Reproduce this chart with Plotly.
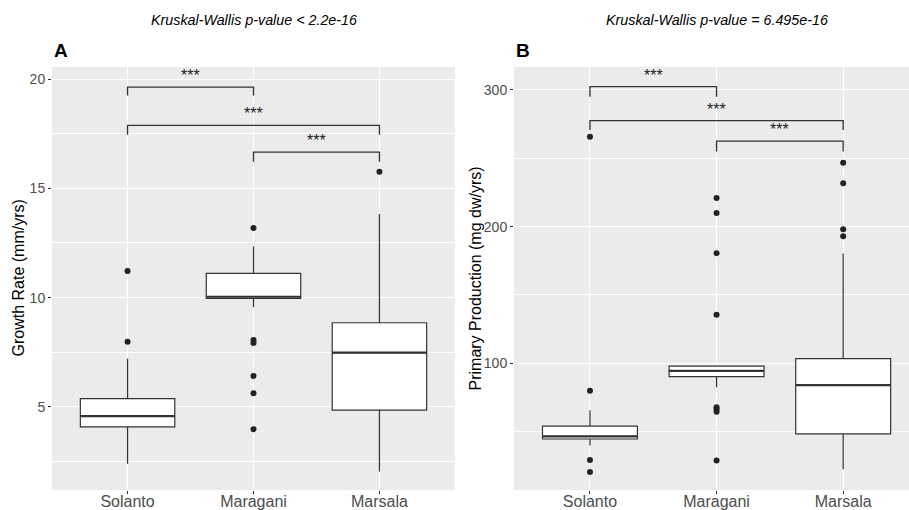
import plotly.graph_objects as go

# ---------------- data ----------------
categories = ["Solanto", "Maragani", "Marsala"]
cat_pos = [0, 1, 2]

# Panel A: Growth Rate (mm/yrs)
growth_q1 = [4.09, 9.96, 4.85]
growth_median = [4.58, 10.04, 7.48]
growth_q3 = [5.38, 11.11, 8.85]
growth_lower = [2.40, 9.57, 2.05]
growth_upper = [7.20, 12.34, 13.82]
growth_out_cat = [0, 0, 1, 1, 1, 1, 1, 1, 2]
growth_out_val = [7.98, 11.22, 13.18, 8.06, 7.93, 6.42, 5.63, 3.98, 15.76]

# Panel B: Primary Production (mg dw/yrs)
prod_q1 = [44.6, 90.3, 48.4]
prod_median = [46.5, 94.5, 84.0]
prod_q3 = [54.1, 97.9, 103.4]
prod_lower = [39.8, 82.4, 22.4]
prod_upper = [65.6, 97.9, 180.3]
prod_out_cat = [0, 0, 0, 0, 1, 1, 1, 1, 1, 1, 1, 1, 2, 2, 2, 2]
prod_out_val = [80.0, 29.2, 20.5, 265.8, 221.0, 210.0, 180.6, 135.6,
                67.8, 66.3, 64.6, 28.8, 246.8, 231.7, 198.0, 193.0]

# significance brackets (pairs of category indices)
bracket_pairs = [(0, 1), (0, 2), (1, 2)]
bracket_labels = ["***", "***", "***"]
growth_bracket_y = [19.63, 17.88, 16.66]
growth_bracket_tip = [19.25, 17.45, 16.22]
prod_bracket_y = [302.4, 277.6, 262.5]
prod_bracket_tip = [295.0, 270.7, 254.9]

title_a = "Kruskal-Wallis p-value < 2.2e-16"
title_b = "Kruskal-Wallis p-value = 6.495e-16"
ylabel_a = "Growth Rate (mm/yrs)"
ylabel_b = "Primary Production (mg dw/yrs)"

# ---------------- style ----------------
W, H = 909, 510
FONT = "Liberation Sans, Arial, sans-serif"
DARK = "#333333"
BOX_W = 0.75


def px(x):
    return x / W


def py(y):
    return 1 - y / H


fig = go.Figure()


def add_panel(xa, ya, q1, med, q3, lo, up, out_cat, out_val, b_y, b_tip):
    fig.add_trace(go.Box(
        x=cat_pos, q1=q1, median=med, q3=q3, lowerfence=lo, upperfence=up,
        width=BOX_W, fillcolor="white", line=dict(color=DARK, width=1.2),
        whiskerwidth=0, boxpoints=False, showlegend=False,
        xaxis=xa, yaxis=ya, hoverinfo="skip"))
    # thicker median (ggplot fatten)
    mx, my = [], []
    for c, m in zip(cat_pos, med):
        mx += [c - BOX_W / 2, c + BOX_W / 2, None]
        my += [m, m, None]
    fig.add_trace(go.Scatter(x=mx, y=my, mode="lines",
                             line=dict(color=DARK, width=2.2),
                             showlegend=False, xaxis=xa, yaxis=ya, hoverinfo="skip"))
    fig.add_trace(go.Scatter(x=out_cat, y=out_val, mode="markers",
                             marker=dict(color="#222222", size=6),
                             showlegend=False, xaxis=xa, yaxis=ya, hoverinfo="skip"))
    bx, by = [], []
    for (a, b), yl, yt in zip(bracket_pairs, b_y, b_tip):
        bx += [cat_pos[a], cat_pos[a], cat_pos[b], cat_pos[b], None]
        by += [yt, yl, yl, yt, None]
    fig.add_trace(go.Scatter(x=bx, y=by, mode="lines",
                             line=dict(color=DARK, width=1.3),
                             showlegend=False, xaxis=xa, yaxis=ya, hoverinfo="skip"))
    xref = "x" if xa == "x" else "x2"
    yref = "y" if ya == "y" else "y2"
    for (a, b), yl, lab in zip(bracket_pairs, b_y, bracket_labels):
        fig.add_annotation(x=(cat_pos[a] + cat_pos[b]) / 2, y=yl, xref=xref, yref=yref,
                           text=lab, showarrow=False, yanchor="bottom", yshift=1,
                           font=dict(family=FONT, size=16, color="#222222"))


add_panel("x", "y", growth_q1, growth_median, growth_q3, growth_lower, growth_upper,
          growth_out_cat, growth_out_val, growth_bracket_y, growth_bracket_tip)
add_panel("x2", "y2", prod_q1, prod_median, prod_q3, prod_lower, prod_upper,
          prod_out_cat, prod_out_val, prod_bracket_y, prod_bracket_tip)

xcommon = dict(tickvals=cat_pos, ticktext=categories, showgrid=True, gridcolor="white",
               gridwidth=1.1, zeroline=False, showline=False, ticks="outside", ticklen=3,
               tickcolor=DARK, automargin=False, ticklabelstandoff=-6,
               tickfont=dict(family=FONT, size=16, color="#4D4D4D"))
ycommon = dict(showgrid=True, gridcolor="white", gridwidth=1.1, zeroline=False,
               showline=False, ticks="outside", ticklen=3, tickcolor=DARK, automargin=False,
               tickfont=dict(family=FONT, size=14, color="#4D4D4D"))

ydom = [py(490), py(67)]
fig.update_layout(
    width=W, height=H, autosize=False, margin=dict(l=0, r=0, t=0, b=0),
    paper_bgcolor="white", plot_bgcolor="#EBEBEB",
    xaxis=dict(domain=[px(52), px(455)], range=[-0.6, 2.6], anchor="y", **xcommon),
    yaxis=dict(domain=ydom, range=[1.2, 20.55], tickvals=[5, 10, 15, 20], anchor="x",
               minor=dict(tickvals=[2.5, 7.5, 12.5, 17.5], showgrid=True,
                          gridcolor="white", gridwidth=0.55, ticks=""),
               **ycommon),
    xaxis2=dict(domain=[px(514), 1.0], range=[-0.6, 2.52], anchor="y2", **xcommon),
    yaxis2=dict(domain=ydom, range=[7.3, 316.8], tickvals=[100, 200, 300], anchor="x2",
                minor=dict(tickvals=[50, 150, 250], showgrid=True,
                           gridcolor="white", gridwidth=0.55, ticks=""),
                **ycommon),
)

for txt, x in [(title_a, 253.5), (title_b, 717)]:
    fig.add_annotation(text=f"<i>{txt}</i>", x=px(x), y=py(20), xref="paper", yref="paper",
                       showarrow=False, xanchor="center", yanchor="middle",
                       font=dict(family=FONT, size=14.3, color="black"))
for txt, x in [("A", 52), ("B", 514)]:
    fig.add_annotation(text=f"<b>{txt}</b>", x=px(x), y=py(51), xref="paper", yref="paper",
                       showarrow=False, xanchor="left", yanchor="middle",
                       font=dict(family=FONT, size=19, color="black"))
for txt, x in [(ylabel_a, 18), (ylabel_b, 475)]:
    fig.add_annotation(text=txt, x=px(x), y=py(278.5), xref="paper", yref="paper",
                       showarrow=False, xanchor="center", yanchor="middle", textangle=-90,
                       font=dict(family=FONT, size=16, color="black"))

fig.write_html("out.html",
               config={"displayModeBar": False, "responsive": False},
               post_script="document.body.style.margin='0';document.body.style.overflow='hidden';")
